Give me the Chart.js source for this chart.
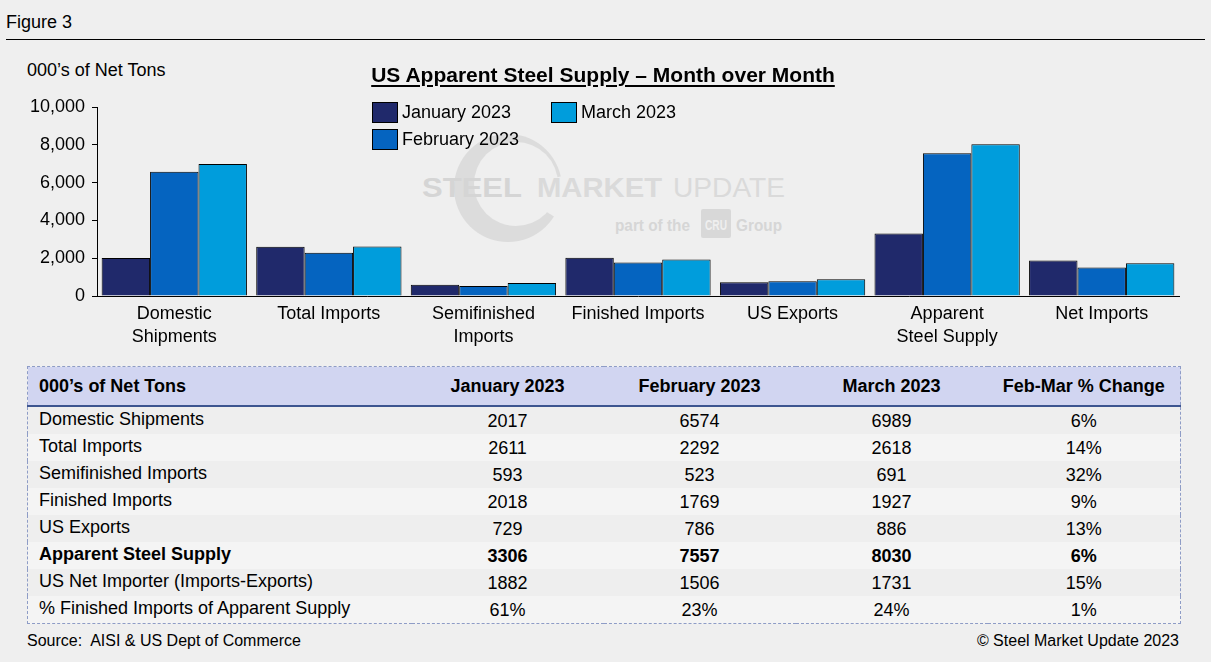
<!DOCTYPE html>
<html>
<head>
<meta charset="utf-8">
<script src="https://cdn.jsdelivr.net/npm/chart.js@4.4.1/dist/chart.umd.min.js"></script>
<style>
  html, body { margin:0; padding:0; background:#efefef; width:1211px; height:662px; overflow:hidden;
    font-family:'Liberation Sans', Arial, sans-serif; color:#000; }
  .abs { position:absolute; white-space:nowrap; }
  #chartWrap { position:absolute; left:0; top:0; width:1211px; height:360px; z-index:2; }
  #wm { position:absolute; left:0; top:0; z-index:1; }
  #legend { position:absolute; left:0; top:0; z-index:3; }
  .lg-box { position:absolute; width:24px; height:19px; border:1px solid #000; }
  .lg-txt { position:absolute; font-size:18px; line-height:20px; white-space:nowrap; }
  table { position:absolute; left:27px; top:366px; border-collapse:collapse; border:1px dashed #8e9cc6;
    font-size:18px; table-layout:fixed; width:1153px; }
  th { background:#d1d5f1; font-weight:bold; height:38px; padding:0; border-bottom:2px solid #3d5590; text-align:center; }
  td { height:27px; padding:0; text-align:center; }
  td.lbl, th.lbl { text-align:left; padding-left:11px; }
  td.lbl span { position:relative; top:-1px; }
  td.num span { position:relative; top:1px; }
  tr.odd td { background:#eeeeee; }
  tr.even td { background:#f4f4f4; }
  tr.bold td { font-weight:bold; }
</style>
</head>
<body>
<div class="abs" style="left:6px; top:11px; font-size:18px; line-height:22px;">Figure 3</div>
<div class="abs" style="left:6px; top:39px; width:1199px; height:1px; background:#000;"></div>
<div class="abs" style="left:27px; top:59px; font-size:18px; line-height:22px;">000’s of Net Tons</div>
<div class="abs" style="left:603px; top:63px; transform:translateX(-50%); font-size:21px; line-height:24px; font-weight:bold; text-decoration:underline; text-underline-offset:3px; z-index:3;">US Apparent Steel Supply – Month over Month</div>

<svg id="wm" width="1211" height="360">
  <defs>
    <mask id="cres">
      <rect x="0" y="0" width="1211" height="360" fill="#fff"/>
      <circle cx="516" cy="184" r="42" fill="#000"/>
      <path d="M508,188 L600,168 L600,245 Z" fill="#000"/>
    </mask>
  </defs>
  <circle cx="508" cy="188" r="54" fill="#dcdcdc" mask="url(#cres)"/>
  <text x="422" y="197" font-family="Liberation Sans, Arial" font-weight="bold" font-size="28" fill="#d5d5d5" textLength="100" lengthAdjust="spacingAndGlyphs">STEEL</text>
  <text x="537" y="197" font-family="Liberation Sans, Arial" font-weight="bold" font-size="28" fill="#dadada" textLength="125" lengthAdjust="spacingAndGlyphs">MARKET</text>
  <text x="673" y="197" font-family="Liberation Sans, Arial" font-size="28" fill="#dadada" textLength="112" lengthAdjust="spacingAndGlyphs">UPDATE</text>
  <text x="615" y="231" font-family="Liberation Sans, Arial" font-weight="bold" font-size="16" fill="#d6d6d6" textLength="75" lengthAdjust="spacingAndGlyphs">part of the</text>
  <rect x="701" y="209" width="30" height="29" rx="2" fill="#d8d8d8"/>
  <text x="705" y="230" font-family="Liberation Sans, Arial" font-weight="bold" font-size="15" fill="#efefef" textLength="22" lengthAdjust="spacingAndGlyphs">CRU</text>
  <text x="736" y="231" font-family="Liberation Sans, Arial" font-weight="bold" font-size="16" fill="#d6d6d6" textLength="46" lengthAdjust="spacingAndGlyphs">Group</text>
</svg>

<div id="chartWrap"><canvas id="c" width="1211" height="360"></canvas></div>

<div id="legend"></div>
<div id="tableHolder"></div>

<div class="abs" style="left:27px; top:631px; font-size:16px; line-height:20px;">Source:&nbsp; AISI &amp; US Dept of Commerce</div>
<div class="abs" style="right:32px; top:631px; font-size:16px; line-height:20px;">© Steel Market Update 2023</div>

<script>
// ---- Data ----
const categories = [["Domestic","Shipments"], "Total Imports", ["Semifinished","Imports"], "Finished Imports", "US Exports", ["Apparent","Steel Supply"], "Net Imports"];
const seriesNames = ["January 2023", "February 2023", "March 2023"];
const jan2023 = [2017, 2611, 593, 2018, 729, 3306, 1882];
const feb2023 = [6574, 2292, 523, 1769, 786, 7557, 1506];
const mar2023 = [6989, 2618, 691, 1927, 886, 8030, 1731];
const yTicks = [0, 2000, 4000, 6000, 8000, 10000];

const tableHeader = ["000’s of Net Tons", "January 2023", "February 2023", "March 2023", "Feb-Mar % Change"];
const tableLabels = ["Domestic Shipments", "Total Imports", "Semifinished Imports", "Finished Imports", "US Exports", "Apparent Steel Supply", "US Net Importer (Imports-Exports)", "% Finished Imports of Apparent Supply"];
const tableJan = ["2017", "2611", "593", "2018", "729", "3306", "1882", "61%"];
const tableFeb = ["6574", "2292", "523", "1769", "786", "7557", "1506", "23%"];
const tableMar = ["6989", "2618", "691", "1927", "886", "8030", "1731", "24%"];
const tableChange = ["6%", "14%", "32%", "9%", "13%", "6%", "15%", "1%"];
const boldRow = 5;

const colors = ["#20296b", "#0564c0", "#009ddc"];

// ---- Legend (HTML) ----
const legendPos = [[372, 102], [372, 129], [551, 102]];
let lg = "";
seriesNames.forEach((n, i) => {
  const [x, y] = legendPos[i];
  lg += `<div class="lg-box" style="left:${x}px; top:${y}px; background:${colors[i]};"></div>`;
  lg += `<div class="lg-txt" style="left:${x+30}px; top:${y}px;">${n}</div>`;
});
document.getElementById('legend').innerHTML = lg;

// ---- Table ----
let t = `<table><colgroup><col style="width:384px"><col style="width:192px"><col style="width:192px"><col style="width:192px"><col style="width:193px"></colgroup>`;
t += `<tr>` + tableHeader.map((h, i) => `<th class="${i===0?'lbl':''}">${h}</th>`).join('') + `</tr>`;
tableLabels.forEach((l, i) => {
  const cls = (i % 2 === 0 ? 'odd' : 'even') + (i === boldRow ? ' bold' : '');
  t += `<tr class="${cls}"><td class="lbl"><span>${l}</span></td>` +
    [tableJan[i], tableFeb[i], tableMar[i], tableChange[i]].map(v => `<td class="num"><span>${v}</span></td>`).join('') + `</tr>`;
});
t += `</table>`;
document.getElementById('tableHolder').innerHTML = t;

// ---- Chart ----
Chart.defaults.font.family = "'Liberation Sans', Arial, sans-serif";
Chart.defaults.font.size = 18;
Chart.defaults.color = "#000";

new Chart(document.getElementById('c'), {
  type: 'bar',
  data: {
    labels: categories,
    datasets: [jan2023, feb2023, mar2023].map((d, i) => ({
      label: seriesNames[i],
      data: d,
      backgroundColor: colors[i],
      borderColor: "#000",
      borderWidth: 1,
      categoryPercentage: 0.94,
      barPercentage: 1.0
    }))
  },
  options: {
    responsive: false,
    animation: false,
    devicePixelRatio: 1,
    layout: { padding: { left: 0, right: 32, top: 107, bottom: 0 } },
    plugins: { legend: { display: false }, title: { display: false }, tooltip: { enabled: false } },
    scales: {
      x: {
        grid: { display: false, drawTicks: false, tickLength: 0 },
        border: { display: true, color: "#000", width: 1 },
        ticks: { padding: 7, maxRotation: 0, autoSkip: false, font: { size: 18, lineHeight: 1.27 } },
        afterFit: s => { s.height = 64; }
      },
      y: {
        min: 0, max: 10000,
        afterBuildTicks: s => { s.ticks = yTicks.map(v => ({ value: v })); },
        grid: { drawOnChartArea: false, drawTicks: true, tickLength: 5, color: "#000", lineWidth: 1 },
        border: { display: true, color: "#000", width: 1 },
        ticks: { padding: 7, callback: v => v.toLocaleString('en-US'), font: { size: 18 } },
        afterFit: s => { s.width = 97; }
      }
    }
  }
});
</script>
</body>
</html>
